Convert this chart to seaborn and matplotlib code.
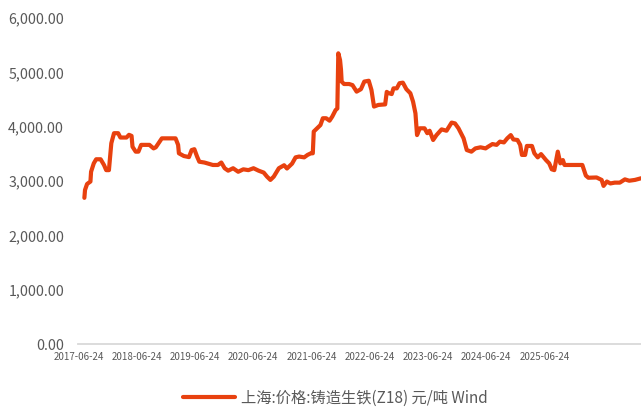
import matplotlib
matplotlib.use("Agg")
import matplotlib.pyplot as plt
from matplotlib.ticker import FuncFormatter
import pandas as pd
import seaborn as sns

# Shanghai foundry pig iron (Z18) price, CNY/ton
dates = [
    "2017-07-30", "2017-08-03", "2017-08-16", "2017-09-06", "2017-09-10", "2017-09-27",
    "2017-10-12", "2017-11-09", "2017-11-30", "2017-12-14", "2017-12-31", "2018-01-15",
    "2018-02-01", "2018-02-27", "2018-03-13", "2018-04-20", "2018-05-06", "2018-05-22",
    "2018-05-28", "2018-06-17", "2018-07-04", "2018-07-21", "2018-09-11", "2018-10-07",
    "2018-10-21", "2018-11-28", "2019-02-22", "2019-03-10", "2019-03-15", "2019-04-15",
    "2019-05-17", "2019-06-03", "2019-06-20", "2019-07-07", "2019-07-21", "2019-08-22",
    "2019-10-14", "2019-11-15", "2019-12-06", "2019-12-27", "2020-01-18", "2020-02-18",
    "2020-03-21", "2020-04-22", "2020-05-24", "2020-06-25", "2020-07-27", "2020-08-28",
    "2020-09-18", "2020-10-09", "2020-10-30", "2020-12-01", "2021-01-03", "2021-01-21",
    "2021-02-22", "2021-03-16", "2021-04-07", "2021-05-09", "2021-05-30", "2021-06-20",
    "2021-07-02", "2021-07-08", "2021-07-29", "2021-08-19", "2021-09-03", "2021-09-24",
    "2021-10-15", "2021-11-01", "2021-11-22", "2021-12-03", "2021-12-09", "2021-12-20",
    "2021-12-26", "2021-12-30", "2022-01-14", "2022-02-15", "2022-03-08", "2022-04-03",
    "2022-04-30", "2022-05-21", "2022-06-18", "2022-07-05", "2022-07-21", "2022-08-17",
    "2022-09-29", "2022-10-09", "2022-10-19", "2022-11-09", "2022-11-20", "2022-12-11",
    "2022-12-28", "2023-01-18", "2023-02-09", "2023-03-06", "2023-03-23", "2023-04-07",
    "2023-04-17", "2023-05-04", "2023-06-03", "2023-06-20", "2023-07-05", "2023-07-27",
    "2023-08-17", "2023-09-18", "2023-10-19", "2023-11-20", "2023-12-11", "2024-01-02",
    "2024-02-03", "2024-02-23", "2024-03-23", "2024-04-17", "2024-05-19", "2024-06-20",
    "2024-07-05", "2024-08-02", "2024-08-28", "2024-09-18", "2024-10-13", "2024-11-03",
    "2024-11-25", "2024-12-11", "2025-01-06", "2025-01-23", "2025-02-03", "2025-02-23",
    "2025-03-06", "2025-04-07", "2025-04-22", "2025-05-13", "2025-06-03", "2025-07-04",
    "2025-07-24", "2025-08-09", "2025-08-25", "2025-09-16", "2025-10-02", "2025-10-18",
    "2025-10-28", "2026-02-17", "2026-03-11", "2026-03-27", "2026-05-17", "2026-06-18",
    "2026-06-30", "2026-07-21", "2026-08-12", "2026-09-08", "2026-10-10", "2026-11-11",
    "2026-12-08", "2027-01-13", "2027-02-20",
]
prices = [
    2690, 2835, 2945, 2990, 3170, 3325,
    3400, 3400, 3295, 3200, 3200, 3695,
    3880, 3880, 3800, 3800, 3850, 3830,
    3630, 3540, 3540, 3665, 3665, 3600,
    3620, 3785, 3785, 3665, 3510, 3460,
    3440, 3570, 3585, 3450, 3355, 3340,
    3295, 3295, 3340, 3235, 3190, 3235,
    3170, 3215, 3200, 3235, 3190, 3155,
    3080, 3020, 3080, 3235, 3290, 3230,
    3320, 3435, 3450, 3435, 3480, 3510,
    3510, 3910, 3970, 4030, 4155, 4155,
    4110, 4185, 4305, 4335, 5350, 5225,
    5045, 4830, 4785, 4785, 4765, 4645,
    4690, 4830, 4845, 4675, 4370, 4400,
    4410, 4640, 4620, 4600, 4705, 4705,
    4800, 4810, 4690, 4615, 4460, 4245,
    3845, 3970, 3970, 3880, 3925, 3755,
    3845, 3950, 3925, 4075, 4060, 3970,
    3785, 3570, 3540, 3600, 3620, 3600,
    3630, 3680, 3665, 3725, 3710, 3785,
    3845, 3765, 3755, 3665, 3480, 3480,
    3645, 3645, 3510, 3435, 3495, 3385,
    3325, 3215, 3200, 3540, 3325, 3385,
    3295, 3295, 3100, 3060, 3065, 3020,
    2910, 2990, 2955, 2970, 2970, 3030,
    3005, 3020, 3050,
]
tick_dates = [
    "2017-06-24", "2018-06-24", "2019-06-24", "2020-06-24", "2021-06-24",
    "2022-06-24", "2023-06-24", "2024-06-24", "2025-06-24",
]
y_ticks = [0, 1000, 2000, 3000, 4000, 5000, 6000]
series_name = "上海:价格:铸造生铁(Z18) 元/吨 Wind"

line_color = "#E8410F"
text_color = "#595959"

sns.set_style("white")
plt.rcParams["font.family"] = ["Noto Sans CJK SC", "DejaVu Sans"]

df = pd.DataFrame({"date": pd.to_datetime(dates), "price": prices})

fig = plt.figure(figsize=(6.41, 4.09), dpi=100)
ax = fig.add_axes([78 / 641, 1 - 344 / 409, 563 / 641, 326 / 409])

sns.lineplot(data=df, x="date", y="price", ax=ax, color=line_color,
             linewidth=3.0, label=series_name, legend=False)

ax.set_xlim(pd.Timestamp("2017-06-20"), pd.Timestamp("2027-02-20"))
ax.set_ylim(y_ticks[0], y_ticks[-1])
ax.set_yticks(y_ticks)
ax.yaxis.set_major_formatter(FuncFormatter(lambda v, _: f"{v:,.2f}"))
ax.set_xticks(pd.to_datetime(tick_dates))
ax.set_xticklabels(tick_dates)

ax.tick_params(axis="y", length=0, pad=10, labelsize=10.3, labelcolor=text_color)
ax.tick_params(axis="x", length=0, pad=6, labelsize=7, labelcolor=text_color)
ax.set_xlabel("")
ax.set_ylabel("")
ax.grid(False)

for side in ("top", "right", "left"):
    ax.spines[side].set_visible(False)
ax.spines["bottom"].set_color("#D9D9D9")
ax.spines["bottom"].set_linewidth(1.3)

handles, labels = ax.get_legend_handles_labels()
fig.legend(handles, labels, loc="center", bbox_to_anchor=(0.523, 0.027),
           frameon=False, fontsize=11, labelcolor=text_color,
           handlelength=3.4, handletextpad=0.4)

fig.savefig("out.png", dpi=100)
